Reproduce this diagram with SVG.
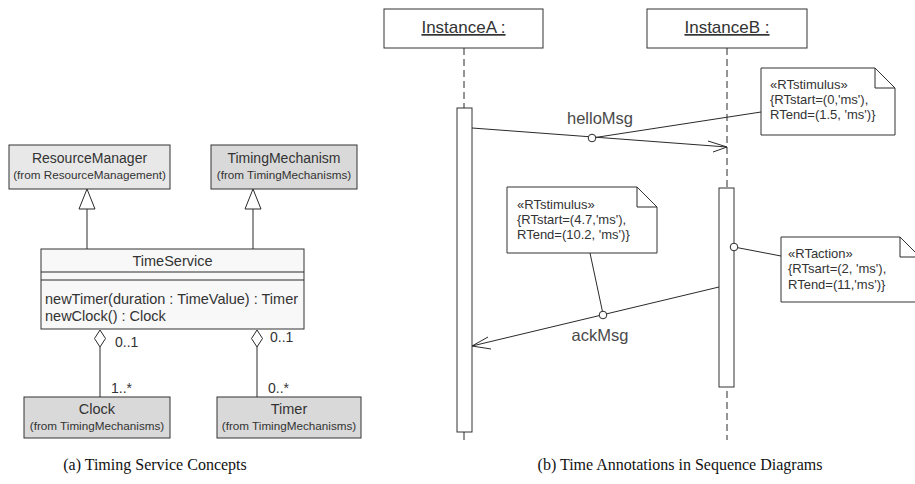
<svg xmlns="http://www.w3.org/2000/svg" width="915" height="484" viewBox="0 0 915 484">
  <style>
    .box { stroke: #333; stroke-width: 1; }
    .light { fill: #e8e8e8; }
    .grey { fill: #d9d9d9; }
    .pale { fill: #f8f8f8; }
    .white { fill: #fff; }
    .ln { stroke: #2a2a2a; stroke-width: 1; fill: none; }
    .dash { stroke: #2a2a2a; stroke-width: 1; stroke-dasharray: 7 4; fill: none; }
    .t { font-family: "Liberation Sans", Arial, sans-serif; fill: #333; }
    .name { font-size: 14px; text-anchor: middle; }
    .from { font-size: 11.7px; text-anchor: middle; }
    .op { font-size: 14.5px; }
    .mult { font-size: 14px; }
    .obj { font-size: 17px; text-anchor: middle; text-decoration: underline; }
    .msg { font-size: 16.5px; text-anchor: middle; fill: #4a4a4a; }
    .note { font-size: 13px; }
    .cap { font-family: "Liberation Serif", "Times New Roman", serif; font-size: 16px; fill: #111; text-anchor: middle; }
  </style>

  <!-- (a) class diagram -->
  <g id="ResourceManager">
    <rect class="box light" x="9" y="145" width="161" height="44"/>
    <text class="t name" x="89.5" y="163">ResourceManager</text>
    <text class="t from" x="89.5" y="179">(from ResourceManagement)</text>
  </g>
  <g id="TimingMechanism">
    <rect class="box grey" x="211" y="145" width="146" height="44"/>
    <text class="t name" x="284" y="163">TimingMechanism</text>
    <text class="t from" x="284" y="179">(from TimingMechanisms)</text>
  </g>
  <g id="TimeService">
    <rect class="box pale" x="41" y="249" width="263" height="80"/>
    <line class="ln" x1="41" y1="272" x2="304" y2="272"/>
    <line class="ln" x1="41" y1="280" x2="304" y2="280"/>
    <text class="t name" x="172.5" y="266" style="font-size:14.5px">TimeService</text>
    <text class="t op" x="45" y="304">newTimer(duration : TimeValue) : Timer</text>
    <text class="t op" x="45" y="321">newClock() : Clock</text>
  </g>
  <g id="Clock">
    <rect class="box grey" x="24" y="397" width="146" height="41"/>
    <text class="t name" x="97" y="414" style="font-size:14.5px">Clock</text>
    <text class="t from" x="97" y="430">(from TimingMechanisms)</text>
  </g>
  <g id="Timer">
    <rect class="box grey" x="217" y="397" width="144" height="41"/>
    <text class="t name" x="289" y="414" style="font-size:14.5px">Timer</text>
    <text class="t from" x="289" y="430">(from TimingMechanisms)</text>
  </g>

  <g id="class-connectors">
    <!-- generalizations -->
    <line class="ln" x1="87" y1="209" x2="87" y2="249"/>
    <polygon class="ln" points="87,189 79,209 95,209" style="fill:#fff"/>
    <line class="ln" x1="253" y1="209" x2="253" y2="249"/>
    <polygon class="ln" points="253,189 245,209 261,209" style="fill:#fff"/>
    <!-- aggregations -->
    <line class="ln" x1="100" y1="347" x2="100" y2="397"/>
    <polygon class="ln" points="100,330 105.5,338.5 100,347 94.5,338.5" style="fill:#fff"/>
    <line class="ln" x1="257" y1="347" x2="257" y2="397"/>
    <polygon class="ln" points="257,330 262.5,338.5 257,347 251.5,338.5" style="fill:#fff"/>
    <text class="t mult" x="115" y="347">0..1</text>
    <text class="t mult" x="111" y="393">1..*</text>
    <text class="t mult" x="270" y="342">0..1</text>
    <text class="t mult" x="268" y="393">0..*</text>
  </g>

  <!-- (b) sequence diagram -->
  <g id="InstanceA">
    <rect class="box white" x="384" y="9" width="159" height="39"/>
    <text class="t obj" x="463.5" y="33">InstanceA :</text>
    <line class="dash" x1="464" y1="48" x2="464" y2="108"/>
    <rect class="box white" x="457" y="108" width="15" height="324"/>
    <line class="ln" x1="464" y1="432" x2="464" y2="440"/>
  </g>
  <g id="InstanceB">
    <rect class="box white" x="647" y="9" width="160" height="39"/>
    <text class="t obj" x="727" y="33">InstanceB :</text>
    <line class="dash" x1="727" y1="48" x2="727" y2="188"/>
    <rect class="box white" x="719" y="188" width="15" height="199"/>
    <line class="dash" x1="727" y1="391" x2="727" y2="440"/>
  </g>

  <g id="note-hello">
    <path class="box white" d="M761,68 H875 L895,88 V135 H761 Z"/>
    <path class="ln" d="M875,68 V88 H895"/>
    <text class="t note" x="770" y="89">«RTstimulus»</text>
    <text class="t note" x="770" y="104">{RTstart=(0,'ms'),</text>
    <text class="t note" x="770" y="119">RTend=(1.5, 'ms')}</text>
  </g>
  <g id="note-ack">
    <path class="box white" d="M507,187 H637 L657,207 V253 H507 Z"/>
    <path class="ln" d="M637,187 V207 H657"/>
    <text class="t note" x="517" y="209">«RTstimulus»</text>
    <text class="t note" x="517" y="224">{RTstart=(4.7,'ms'),</text>
    <text class="t note" x="517" y="239">RTend=(10.2, 'ms')}</text>
  </g>
  <g id="note-action">
    <path class="box white" d="M781,237 H900 L920,257 V302 H781 Z"/>
    <path class="ln" d="M900,237 V257 H920"/>
    <text class="t note" x="788" y="258">«RTaction»</text>
    <text class="t note" x="788" y="273">{RTsart=(2, 'ms'),</text>
    <text class="t note" x="788" y="289">RTend=(11,'ms')}</text>
  </g>

  <g id="sequence-connectors">
    <!-- helloMsg -->
    <line class="ln" x1="472" y1="128" x2="727" y2="147"/>
    <polyline class="ln" points="708,141 727,147 713,152"/>
    <text class="t msg" x="600" y="124">helloMsg</text>
    <line class="ln" x1="592" y1="138" x2="761" y2="112"/>
    <circle class="ln" cx="592" cy="138" r="3.8" style="fill:#fff"/>
    <!-- ackMsg -->
    <line class="ln" x1="719" y1="287" x2="472" y2="346"/>
    <polyline class="ln" points="488,337 472,346 491,349"/>
    <text class="t msg" x="600" y="341">ackMsg</text>
    <line class="ln" x1="590" y1="253" x2="603" y2="314"/>
    <circle class="ln" cx="603" cy="315" r="3.8" style="fill:#fff"/>
    <!-- action annotation -->
    <line class="ln" x1="734" y1="247" x2="781" y2="256"/>
    <circle class="ln" cx="734" cy="247" r="3.8" style="fill:#fff"/>
  </g>

  <g id="captions">
    <text class="cap" x="155" y="470">(a)  Timing Service Concepts</text>
    <text class="cap" x="680" y="470">(b)  Time Annotations in Sequence Diagrams</text>
  </g>
</svg>
